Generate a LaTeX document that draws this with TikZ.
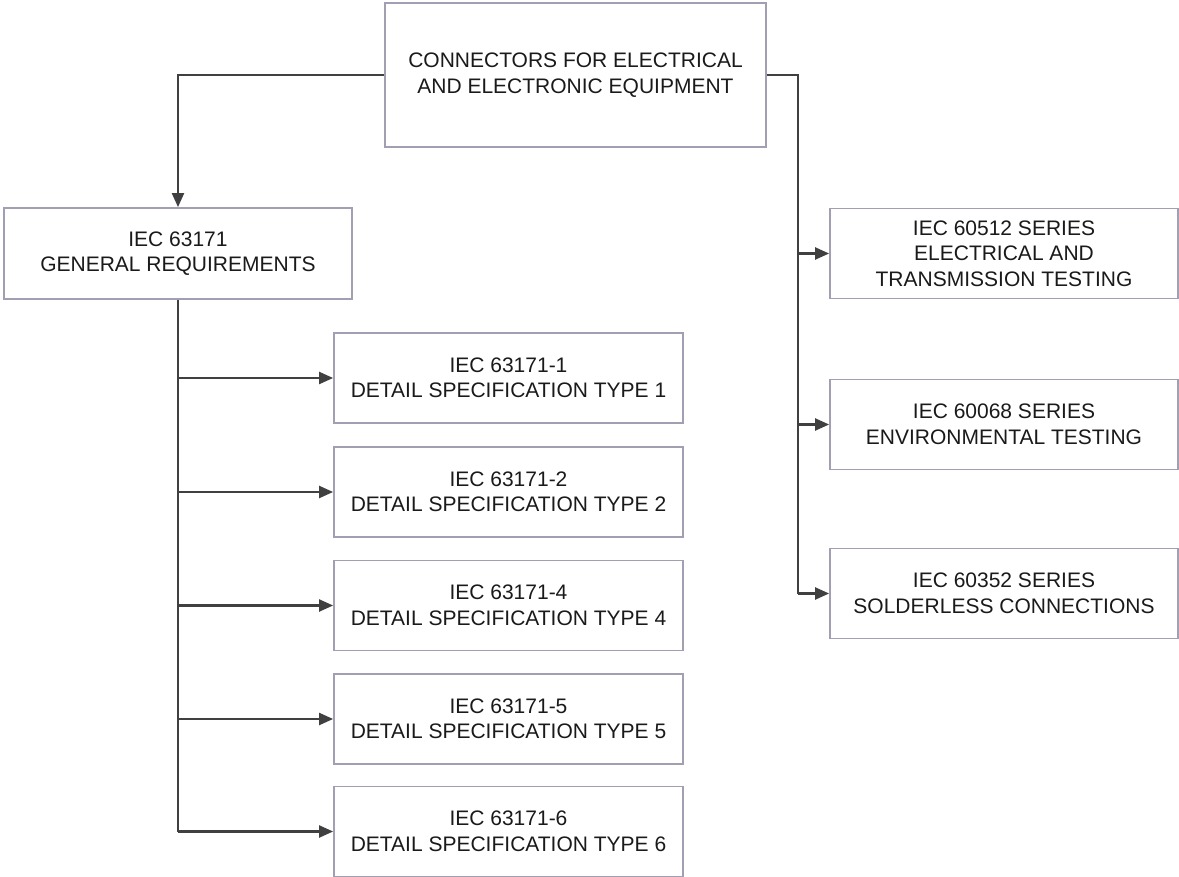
\documentclass[tikz,border=0pt]{standalone}
\usepackage{fontspec}
\setmainfont{Liberation Sans}
\usetikzlibrary{arrows.meta}
\definecolor{boxline}{HTML}{A29FB2}
\definecolor{conn}{HTML}{404040}
\definecolor{txt}{HTML}{1A1A1A}
\begin{document}
\begin{tikzpicture}[x=1pt,y={(0pt,-1pt)},
  box/.style={draw=boxline, line width=1.8pt, fill=white, rectangle, inner sep=0pt,
    align=center, text=txt, font=\fontsize{21}{25.5}\selectfont},
  topbox/.style={box, minimum width=381pt, minimum height=144pt},
  genbox/.style={box, minimum width=348pt, minimum height=91pt},
  detbox/.style={box, minimum width=349pt, minimum height=90pt},
  rbox/.style={box, minimum width=348pt, minimum height=90pt},
  link/.style={draw=conn, line width=2.2pt},
  arr/.style={link, -{Triangle[length=14pt,width=12pt]}}]
\useasboundingbox (0,0) rectangle (1179,877);
\fill[white] (0,0) rectangle (1179,877);

\node[topbox] (top) at (575.5,75) {CONNECTORS FOR ELECTRICAL\\AND ELECTRONIC EQUIPMENT};
\node[genbox] (gen) at (178,253.5) {IEC 63171\\GENERAL REQUIREMENTS};

\node[detbox] (d1) at (508.5,378) {IEC 63171-1\\DETAIL SPECIFICATION TYPE 1};
\node[detbox] (d2) at (508.5,492) {IEC 63171-2\\DETAIL SPECIFICATION TYPE 2};
\node[detbox] (d4) at (508.5,605.5) {IEC 63171-4\\DETAIL SPECIFICATION TYPE 4};
\node[detbox] (d5) at (508.5,719) {IEC 63171-5\\DETAIL SPECIFICATION TYPE 5};
\node[detbox] (d6) at (508.5,831.5) {IEC 63171-6\\DETAIL SPECIFICATION TYPE 6};

\node[rbox] (r1) at (1004,253.5) {IEC 60512 SERIES\\ELECTRICAL AND\\TRANSMISSION TESTING};
\node[rbox] (r2) at (1004,424.5) {IEC 60068 SERIES\\ENVIRONMENTAL TESTING};
\node[rbox] (r3) at (1004,593.5) {IEC 60352 SERIES\\SOLDERLESS CONNECTIONS};

\coordinate (rt) at (798,75);

% left branch
\draw[arr] (top.west) -| (gen.north);
\draw[link] (gen.south) -- (gen.south |- d6.west);
\foreach \n in {d1,d2,d4,d5,d6}
  \draw[arr] (gen.south |- \n.west) -- (\n.west);

% right branch
\draw[link, line width=2.8pt] (top.east) -- (rt) -- (rt |- r3.west);
\foreach \n in {r1,r2,r3}
  \draw[arr] (rt |- \n.west) -- (\n.west);
\end{tikzpicture}
\end{document}
